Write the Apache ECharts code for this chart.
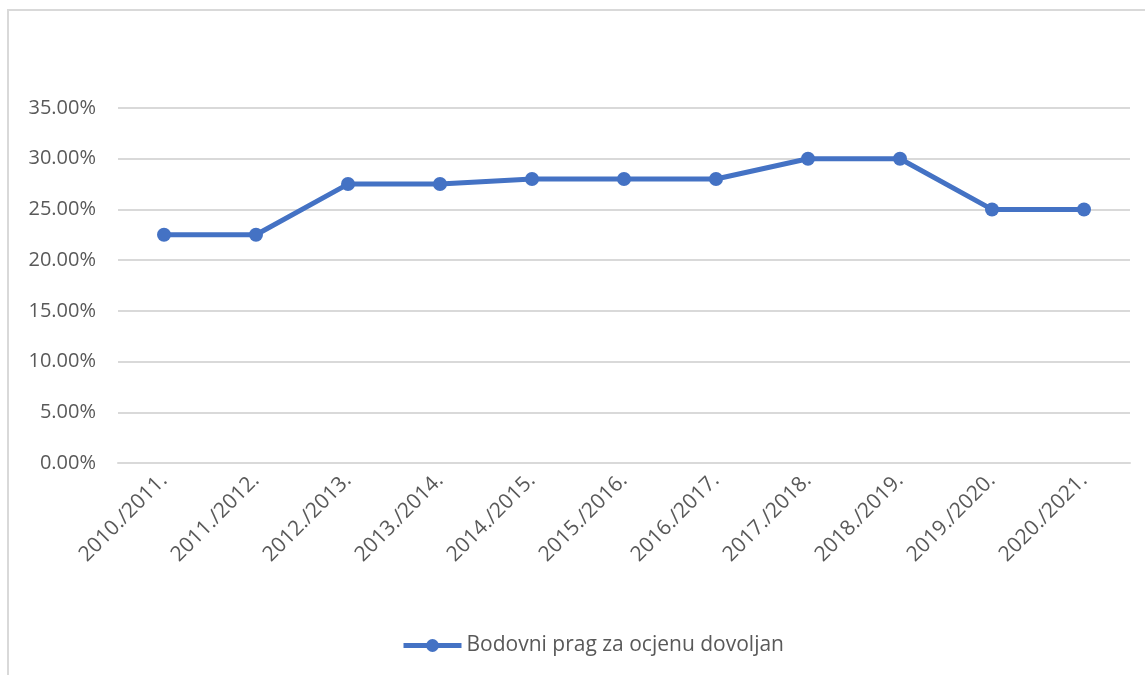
<!DOCTYPE html>
<html>
<head>
<meta charset="utf-8">
<script src="https://cdn.jsdelivr.net/npm/echarts@6/dist/echarts.min.js"></script>
<style>
  html, body { margin: 0; padding: 0; background: #fff; }
  #frame { position: absolute; left: 7px; top: 9px; width: 1200px; height: 700px;
           border-left: 2px solid #d9d9d9; border-top: 2px solid #d9d9d9; }
  #chart { position: absolute; left: 0; top: 0; width: 1145px; height: 675px; }
</style>
</head>
<body>
<div id="frame"></div>
<div id="chart"></div>
<script>
const years = ['2010./2011.', '2011./2012.', '2012./2013.', '2013./2014.', '2014./2015.',
  '2015./2016.', '2016./2017.', '2017./2018.', '2018./2019.', '2019./2020.', '2020./2021.']
const threshold = [22.5, 22.5, 27.5, 27.5, 28, 28, 28, 30, 30, 25, 25]
const seriesName = 'Bodovni prag za ocjenu dovoljan'

const chart = echarts.init(document.getElementById('chart'))
const textColor = '#595959'
chart.setOption({
  animation: false,
  textStyle: { fontFamily: 'Open Sans' },
  grid: { left: 118, right: 15, top: 108, bottom: 212 },
  legend: {
    top: 630,
    left: 396,
    itemWidth: 58,
    itemHeight: 16,
    lineStyle: { width: 5 },
    textStyle: { color: textColor, fontSize: 21, fontFamily: 'Open Sans' },
    data: [seriesName]
  },
  xAxis: {
    type: 'category',
    data: years,
    boundaryGap: true,
    axisLine: { lineStyle: { color: '#d9d9d9', width: 2 } },
    axisTick: { show: false },
    axisLabel: { rotate: 45, color: textColor, fontSize: 21, margin: 14, interval: 0 }
  },
  yAxis: {
    type: 'value',
    min: 0,
    max: 35,
    interval: 5,
    axisLine: { show: false },
    axisTick: { show: false },
    splitLine: { lineStyle: { color: '#d9d9d9', width: 2 } },
    axisLabel: {
      color: textColor, fontSize: 20, margin: 22,
      formatter: v => v.toFixed(2) + '%'
    }
  },
  series: [{
    name: seriesName,
    type: 'line',
    data: threshold,
    symbol: 'circle',
    symbolSize: 14,
    lineStyle: { color: '#4472C4', width: 5 },
    itemStyle: { color: '#4472C4' }
  }]
})
</script>
</body>
</html>
